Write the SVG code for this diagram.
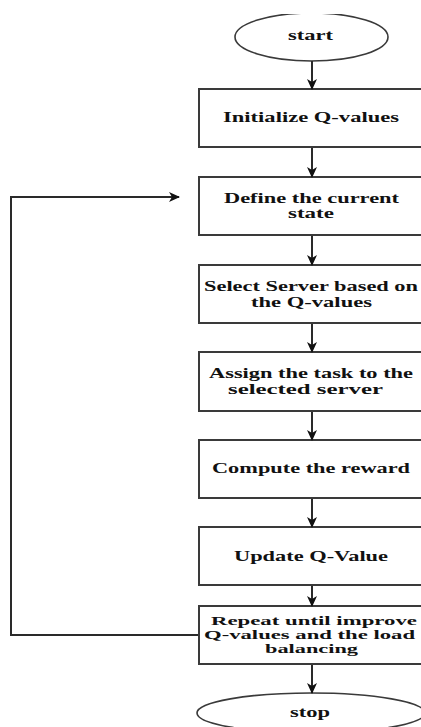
<svg xmlns="http://www.w3.org/2000/svg" width="421" height="727" viewBox="0 0 421 727">
  <style>
    .box { fill: #ffffff; stroke: #3a3a3a; stroke-width: 2; }
    .term { fill: #ffffff; stroke: #3a3a3a; stroke-width: 1.6; }
    .lbl { font-family: "Liberation Serif", "Times New Roman", serif; font-weight: bold; font-size: 14px; fill: #111111; text-anchor: middle; }
    .tight { font-size: 12.5px; }
    .flow { fill: none; stroke: #2a2a2a; stroke-width: 2; }
  </style>
  <defs>
    <marker id="arrow" markerWidth="12" markerHeight="10" refX="10" refY="5" orient="auto" markerUnits="userSpaceOnUse">
      <path d="M0,0 L11,5 L0,10 L3,5 Z" fill="#111111"/>
    </marker>
    <clipPath id="topClip">
      <rect x="0" y="14" width="421" height="713"/>
    </clipPath>
  </defs>
  <rect width="421" height="727" fill="#ffffff"/>

  <g id="start" clip-path="url(#topClip)">
    <ellipse class="term" cx="311.5" cy="37" rx="76.5" ry="24"/>
    <text class="lbl" x="310.5" y="40" textLength="45" lengthAdjust="spacingAndGlyphs">start</text>
  </g>

  <g id="init">
    <rect class="box" x="199" y="89" width="226" height="58"/>
    <text class="lbl" x="311" y="122" textLength="176" lengthAdjust="spacingAndGlyphs">Initialize Q-values</text>
  </g>

  <g id="define">
    <rect class="box" x="199" y="177" width="226" height="58"/>
    <text class="lbl" x="311.5" y="203" textLength="175" lengthAdjust="spacingAndGlyphs">Define the current</text>
    <text class="lbl" x="311" y="218" textLength="46" lengthAdjust="spacingAndGlyphs">state</text>
  </g>

  <g id="select">
    <rect class="box" x="199" y="265" width="226" height="58"/>
    <text class="lbl" x="311" y="291" textLength="214" lengthAdjust="spacingAndGlyphs">Select Server based on</text>
    <text class="lbl" x="311.5" y="307" textLength="121" lengthAdjust="spacingAndGlyphs">the Q-values</text>
  </g>

  <g id="assign">
    <rect class="box" x="199" y="352" width="226" height="59"/>
    <text class="lbl" x="311" y="378" textLength="204" lengthAdjust="spacingAndGlyphs">Assign the task to the</text>
    <text class="lbl" x="305.5" y="394" textLength="155" lengthAdjust="spacingAndGlyphs">selected server</text>
  </g>

  <g id="reward">
    <rect class="box" x="199" y="440" width="226" height="58"/>
    <text class="lbl" x="311" y="473" textLength="198" lengthAdjust="spacingAndGlyphs">Compute the reward</text>
  </g>

  <g id="update">
    <rect class="box" x="199" y="527" width="226" height="58"/>
    <text class="lbl" x="311" y="561" textLength="154" lengthAdjust="spacingAndGlyphs">Update Q-Value</text>
  </g>

  <g id="repeat">
    <rect class="box" x="199" y="606" width="226" height="58"/>
    <text class="lbl tight" x="314" y="624.5" textLength="206" lengthAdjust="spacingAndGlyphs">Repeat until improve</text>
    <text class="lbl tight" x="309.5" y="638.5" textLength="211" lengthAdjust="spacingAndGlyphs">Q-values and the load</text>
    <text class="lbl tight" x="311.5" y="652.5" textLength="93" lengthAdjust="spacingAndGlyphs">balancing</text>
  </g>

  <g id="stop">
    <ellipse class="term" cx="311" cy="713" rx="114" ry="20"/>
    <text class="lbl" x="310" y="717" textLength="40" lengthAdjust="spacingAndGlyphs">stop</text>
  </g>

  <g id="connectors">
    <line class="flow" x1="312" y1="61" x2="312" y2="89" marker-end="url(#arrow)"/>
    <line class="flow" x1="312" y1="148" x2="312" y2="177" marker-end="url(#arrow)"/>
    <line class="flow" x1="312" y1="236" x2="312" y2="265" marker-end="url(#arrow)"/>
    <line class="flow" x1="312" y1="324" x2="312" y2="352" marker-end="url(#arrow)"/>
    <line class="flow" x1="312" y1="412" x2="312" y2="440" marker-end="url(#arrow)"/>
    <line class="flow" x1="312" y1="499" x2="312" y2="527" marker-end="url(#arrow)"/>
    <line class="flow" x1="312" y1="586" x2="312" y2="606" marker-end="url(#arrow)"/>
    <line class="flow" x1="312" y1="665" x2="312" y2="693" marker-end="url(#arrow)"/>
    <polyline class="flow" points="198,635 11,635 11,197 179,197" marker-end="url(#arrow)"/>
  </g>
</svg>
